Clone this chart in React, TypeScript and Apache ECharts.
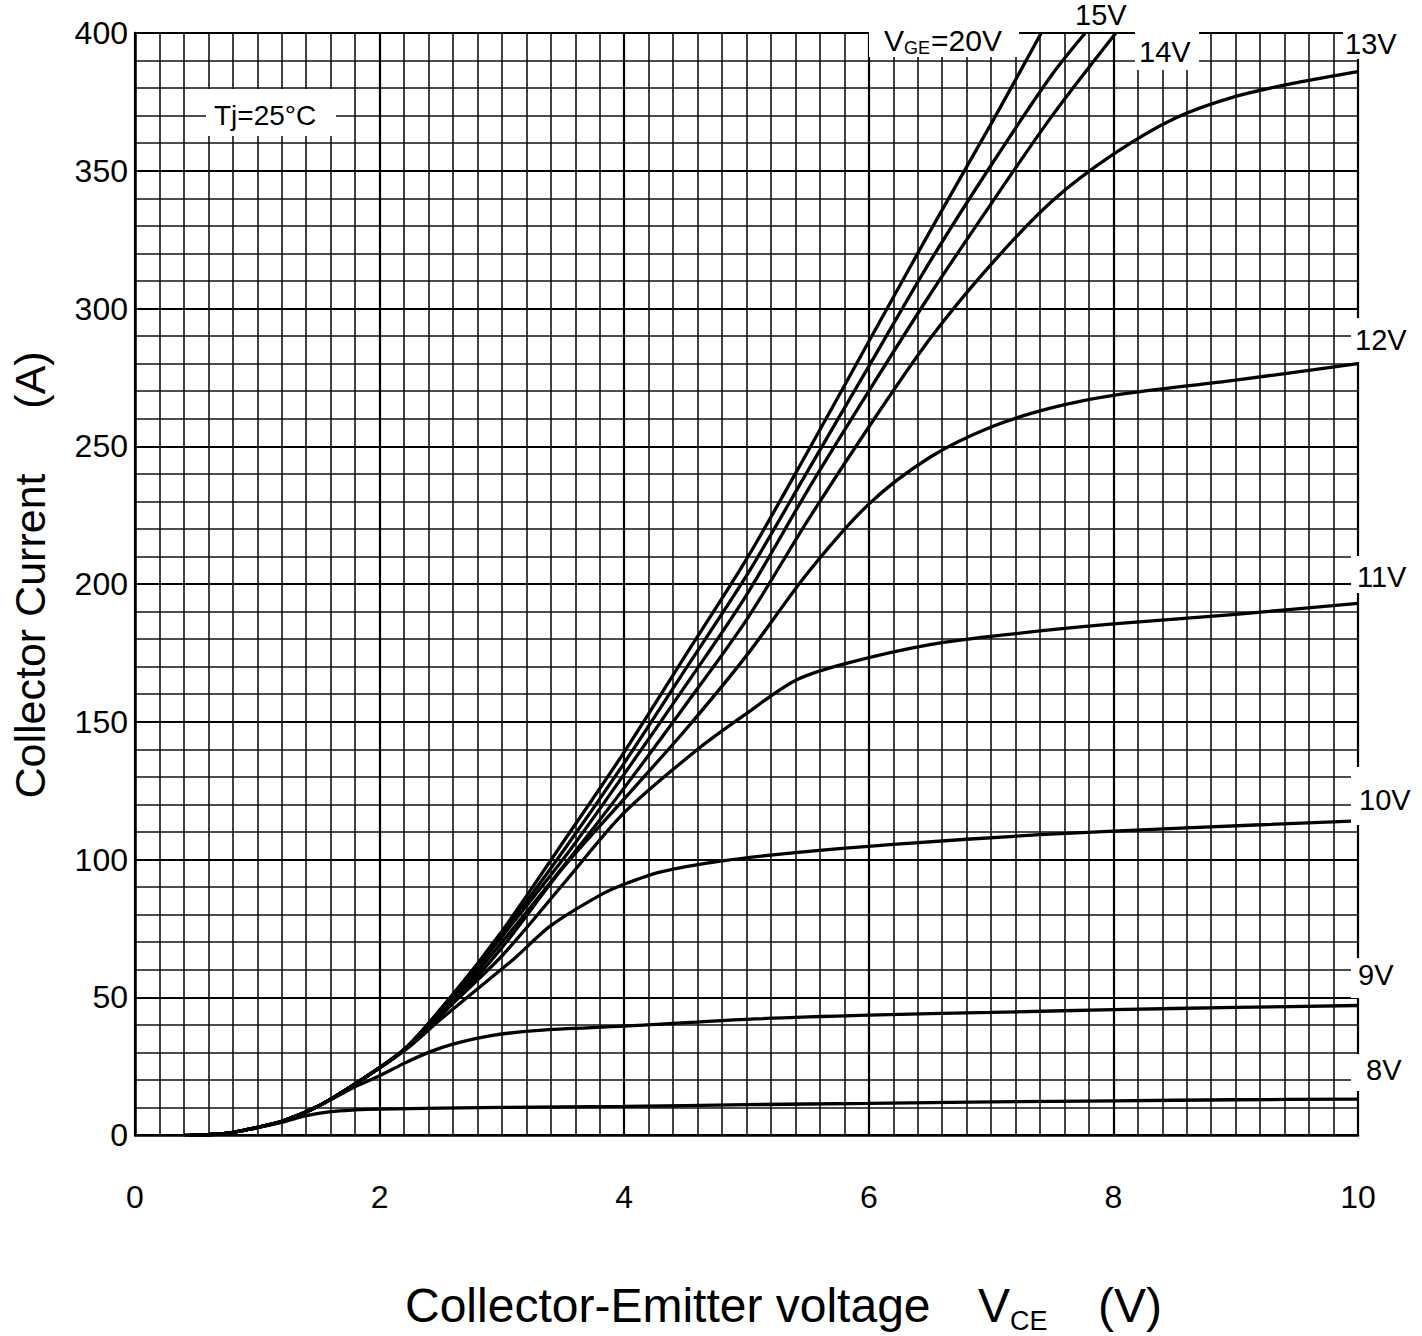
import React, { useEffect, useRef } from "react";
import * as echarts from "echarts";

// V_CE (V), I_C (A) pairs
const vge20: number[][] = [[0.45,0],[0.7,0.4],[0.9,1.8],[1.2,5],[1.5,10.5],[1.85,20],[2.2,31],[2.58,50],[3.0,74],[3.45,103],[4.0,139],[4.5,174],[5.0,209],[5.5,248],[6.0,288],[6.5,328],[7.0,367],[7.41,400]];
const vge15: number[][] = [[0.45,0],[0.7,0.4],[0.9,1.8],[1.2,5],[1.5,10.5],[1.85,20],[2.2,31],[2.58,50],[3.0,73],[3.5,103],[4.0,135],[4.5,169],[5.0,203],[5.5,241],[6.0,279],[6.5,317],[7.0,352],[7.5,385],[7.77,400]];
const vge14: number[][] = [[0.45,0],[0.7,0.4],[0.9,1.8],[1.2,5],[1.5,10.5],[1.85,20],[2.2,31],[2.58,49],[3.0,72],[3.55,103],[4.0,131],[4.5,163],[5.0,196],[5.5,234],[6.0,270],[6.5,305],[7.0,338],[7.5,370],[8.02,400]];
const vge13: number[][] = [[0.45,0],[0.7,0.4],[0.9,1.8],[1.2,5],[1.5,10.5],[1.85,20],[2.2,31],[2.58,48],[3.0,70],[3.6,103],[4.0,126],[4.5,156],[5.0,187],[5.5,223],[6.0,257],[6.5,289],[7.0,316],[7.5,339],[8.0,356],[8.5,369],[9.0,377],[9.5,382],[10,386]];
const vge12: number[][] = [[0.45,0],[0.7,0.4],[0.9,1.8],[1.2,5],[1.5,10.5],[1.85,20],[2.2,31],[2.58,47],[3.0,68],[3.5,97],[4.0,122],[4.5,147],[5.0,174],[5.5,204],[6.0,229],[6.5,246],[7.0,257],[7.5,264],[8.0,268.5],[9.0,274],[10,280]];
const vge11: number[][] = [[0.45,0],[0.7,0.4],[0.9,1.8],[1.2,5],[1.5,10.5],[1.85,20],[2.2,31],[2.58,47],[3.0,65],[3.5,91],[4.0,117],[4.6,140],[5.0,153],[5.4,165],[5.8,171],[6.5,178],[7.2,182],[8.0,185.5],[9.0,189],[10,193]];
const vge10: number[][] = [[0.45,0],[0.7,0.4],[0.9,1.8],[1.2,5],[1.5,10.5],[1.85,20],[2.2,30.5],[2.5,42],[2.8,53],[3.1,64],[3.4,76],[3.8,87],[4.0,91],[4.3,95.5],[4.8,99.5],[5.4,102.5],[6.2,105.5],[7.4,109],[8.6,111.5],[10,114]];
const vge9: number[][] = [[0.45,0],[0.7,0.4],[0.9,1.8],[1.2,5],[1.5,10.5],[1.8,17.5],[2.0,21.5],[2.2,26],[2.4,30],[2.6,33],[2.9,36],[3.3,38],[4.0,39.5],[5.0,42],[6.0,43.5],[7.0,44.5],[8.0,45.5],[9.0,46.3],[10,47]];
const vge8: number[][] = [[0.4,0],[0.7,0.4],[0.9,1.8],[1.2,4.6],[1.4,7],[1.6,8.5],[1.8,9.1],[2.0,9.4],[3.0,10],[4.0,10.4],[5,11],[6,11.5],[7,12],[8,12.4],[9,12.8],[10,13]];

const curves = [vge20, vge15, vge14, vge13, vge12, vge11, vge10, vge9, vge8];
const curveNames = ["20V", "15V", "14V", "13V", "12V", "11V", "10V", "9V", "8V"];
const xTickLabels = [0, 2, 4, 6, 8, 10];
const yTickLabels = [0, 50, 100, 150, 200, 250, 300, 350, 400];

const FONT = "'Liberation Sans', Arial, Helvetica, sans-serif";

function label(text: string, x: number, y: number, size: number, box?: number[]) {
  const els: any[] = [];
  if (box) {
    els.push({
      type: "rect",
      z: 50,
      shape: { x: box[0], y: box[1], width: box[2], height: box[3] },
      style: { fill: "#ffffff" },
      silent: true,
    });
  }
  els.push({
    type: "text",
    z: 60,
    x,
    y,
    style: {
      text,
      fontFamily: FONT,
      fontSize: size,
      fill: "#000",
      textAlign: "left",
      textVerticalAlign: "middle",
    },
    silent: true,
  });
  return els;
}

export default function App() {
  const ref = useRef<HTMLDivElement>(null);
  useEffect(() => {
    const chart = echarts.init(ref.current!, null, { renderer: "svg" });
    const series = curves.map((data, i) => ({
      type: "line",
      name: curveNames[i],
      data,
      xAxisIndex: 0,
      yAxisIndex: 0,
      showSymbol: false,
      smooth: 0.3,
      clip: true,
      lineStyle: { color: "#000", width: 3.3 },
      z: 5,
    }));

    const graphics: any[] = [
      ...label("Tj=25°C", 214, 115, 28, [206, 89, 130, 47]),
      // V_GE=20V
      { type: "rect", z: 50, shape: { x: 869, y: 22, width: 150, height: 35 }, style: { fill: "#fff" }, silent: true },
      { type: "text", z: 60, x: 884, y: 40, style: { text: "V", fontFamily: FONT, fontSize: 30, fill: "#000", textVerticalAlign: "middle" }, silent: true },
      { type: "text", z: 60, x: 904, y: 48, style: { text: "GE", fontFamily: FONT, fontSize: 18, fill: "#000", textVerticalAlign: "middle" }, silent: true },
      { type: "text", z: 60, x: 931, y: 40, style: { text: "=20V", fontFamily: FONT, fontSize: 30, fill: "#000", textVerticalAlign: "middle" }, silent: true },
      ...label("15V", 1075, 15, 29),
      ...label("14V", 1139, 52, 29, [1135, 28, 64, 42]),
      ...label("13V", 1345, 44, 29, [1343, 25, 72, 34]),
      ...label("12V", 1355, 340, 29, [1351, 318, 66, 44]),
      ...label("11V", 1357, 577, 29, [1351, 556, 66, 37]),
      ...label("10V", 1359, 800, 29, [1351, 767, 66, 58]),
      ...label("9V", 1358, 975, 29, [1351, 958, 60, 40]),
      ...label("8V", 1366, 1070, 29, [1351, 1054, 60, 37]),
      // axis titles
      { type: "text", z: 60, x: 405, y: 1305, style: { text: "Collector-Emitter voltage", fontFamily: FONT, fontSize: 48, fill: "#000", textVerticalAlign: "middle" }, silent: true },
      { type: "text", z: 60, x: 978, y: 1305, style: { text: "V", fontFamily: FONT, fontSize: 48, fill: "#000", textVerticalAlign: "middle" }, silent: true },
      { type: "text", z: 60, x: 1010, y: 1321, style: { text: "CE", fontFamily: FONT, fontSize: 27, fill: "#000", textVerticalAlign: "middle" }, silent: true },
      { type: "text", z: 60, x: 1098, y: 1305, style: { text: "(V)", fontFamily: FONT, fontSize: 48, fill: "#000", textVerticalAlign: "middle" }, silent: true },
      { type: "text", z: 60, x: 30, y: 636, rotation: Math.PI / 2, style: { text: "Collector Current", fontFamily: FONT, fontSize: 43, fill: "#000", textAlign: "center", textVerticalAlign: "middle" }, silent: true },
      { type: "text", z: 60, x: 30, y: 380, rotation: Math.PI / 2, style: { text: "(A)", fontFamily: FONT, fontSize: 43, fill: "#000", textAlign: "center", textVerticalAlign: "middle" }, silent: true },
    ];

    chart.setOption({
      animation: false,
      backgroundColor: "#fff",
      grid: {
        left: 135,
        top: 33,
        width: 1223,
        height: 1102,
        show: true,
        borderColor: "#000",
        borderWidth: 2,
        backgroundColor: "transparent",
      },
      xAxis: [
        {
          type: "value",
          min: 0,
          max: 10,
          interval: 0.2,
          axisLine: { show: true, lineStyle: { color: "#000", width: 2.5 } },
          axisTick: { show: false },
          splitLine: { show: true, lineStyle: { color: "#111", width: 1.6 } },
          axisLabel: {
            margin: 46,
            fontFamily: FONT,
            fontSize: 32,
            color: "#000",
            formatter: (v: number) => {
              const r = Math.round(v);
              return Math.abs(v - r) < 1e-6 && xTickLabels.includes(r) ? String(r) : "";
            },
          },
        },
        {
          type: "value",
          min: 0,
          max: 10,
          interval: 2,
          position: "bottom",
          axisLine: { show: false },
          axisTick: { show: false },
          axisLabel: { show: false },
          splitLine: { show: true, lineStyle: { color: "#000", width: 2.2 } },
        },
      ],
      yAxis: [
        {
          type: "value",
          min: 0,
          max: 400,
          interval: 10,
          axisLine: { show: true, lineStyle: { color: "#000", width: 2.5 } },
          axisTick: { show: false },
          splitLine: { show: true, lineStyle: { color: "#111", width: 1.6 } },
          axisLabel: {
            margin: 7,
            fontFamily: FONT,
            fontSize: 32,
            color: "#000",
            formatter: (v: number) => {
              const r = Math.round(v);
              return Math.abs(v - r) < 1e-6 && yTickLabels.includes(r) ? String(r) : "";
            },
          },
        },
        {
          type: "value",
          min: 0,
          max: 400,
          interval: 50,
          position: "left",
          axisLine: { show: false },
          axisTick: { show: false },
          axisLabel: { show: false },
          splitLine: { show: true, lineStyle: { color: "#000", width: 2.2 } },
        },
      ],
      series,
      graphic: graphics,
    });
    return () => chart.dispose();
  }, []);
  return (
    <div
      ref={ref}
      style={{ position: "fixed", left: 0, top: 0, width: 1422, height: 1336, background: "#fff" }}
    />
  );
}
